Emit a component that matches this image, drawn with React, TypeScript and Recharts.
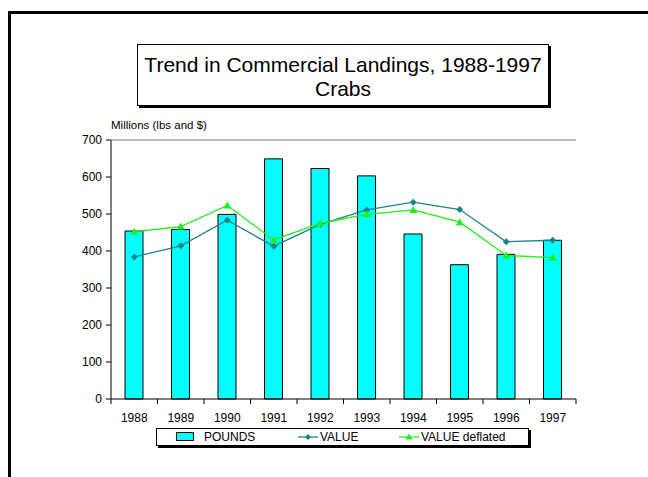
import React from "react";
import {
  ComposedChart,
  Bar,
  Line,
  XAxis,
  YAxis,
  ReferenceLine,
} from "recharts";

const years = ["1988", "1989", "1990", "1991", "1992", "1993", "1994", "1995", "1996", "1997"];
const pounds = [454, 458, 499, 649, 623, 603, 446, 363, 391, 429];
const value = [384, 414, 483, 413, 472, 511, 532, 512, 425, 429];
const valueDeflated = [452, 466, 523, 430, 475, 499, 511, 478, 388, 382];
const yTicks = [0, 100, 200, 300, 400, 500, 600, 700];

const data = years.map((year, i) => ({
  year,
  pounds: pounds[i],
  value: value[i],
  deflated: valueDeflated[i],
}));

const FONT = '"Liberation Sans", Arial, sans-serif';
const TEAL = "#1a8488";
const GREEN = "#22ee22";

const Diamond = (props: any) => {
  const { cx, cy, index } = props;
  if (cx == null || cy == null) return null;
  return (
    <polygon
      key={`d-${index}`}
      points={`${cx},${cy - 3.5} ${cx + 3.5},${cy} ${cx},${cy + 3.5} ${cx - 3.5},${cy}`}
      fill={TEAL}
    />
  );
};

const Triangle = (props: any) => {
  const { cx, cy, index } = props;
  if (cx == null || cy == null) return null;
  return (
    <polygon
      key={`t-${index}`}
      points={`${cx},${cy - 4} ${cx + 4},${cy + 3} ${cx - 4},${cy + 3}`}
      fill={GREEN}
    />
  );
};

// year label in the middle, tick marks on the category boundaries (Excel style)
const YearTick = (props: any) => {
  const { x, y, payload, index } = props;
  const half = payload.offset ?? 23.2;
  const axisY = y - 14;
  return (
    <g>
      <line x1={x - half} x2={x - half} y1={axisY} y2={axisY + 5} stroke="#000" />
      {index === years.length - 1 && (
        <line x1={x + half} x2={x + half} y1={axisY} y2={axisY + 5} stroke="#000" />
      )}
      <text x={x} y={y} dy="0.71em" textAnchor="middle" fontSize={12} fill="#000" fontFamily={FONT}>
        {payload.value}
      </text>
    </g>
  );
};

export default function App() {
  return (
    <div
      style={{
        position: "fixed",
        left: 0,
        top: 0,
        width: 648,
        height: 477,
        overflow: "hidden",
        background: "#fff",
        fontFamily: FONT,
      }}
    >
      <div
        style={{
          position: "absolute",
          left: 8,
          top: 11,
          width: 700,
          height: 500,
          borderLeft: "3px solid #000",
          borderTop: "3px solid #000",
        }}
      />
      <div
        style={{
          position: "absolute",
          left: 137,
          top: 44,
          width: 412,
          height: 62,
          border: "1px solid #000",
          boxShadow: "2px 2px 0 #000",
          background: "#fff",
          textAlign: "center",
          fontSize: 21,
          lineHeight: "24px",
          paddingTop: 8,
          boxSizing: "border-box",
          color: "#000",
          whiteSpace: "nowrap",
        }}
      >
        Trend in Commercial Landings, 1988-1997
        <br />
        Crabs
      </div>
      <div style={{ position: "absolute", left: 111, top: 119, fontSize: 11.5, color: "#000" }}>
        Millions (lbs and $)
      </div>

      <div style={{ position: "absolute", left: 0, top: 0 }}>
        <ComposedChart
          width={648}
          height={477}
          data={data}
          margin={{ top: 140, right: 72, bottom: 48, left: 51 }}
          barCategoryGap={0}
        >
          <XAxis
            dataKey="year"
            height={30}
            stroke="#000"
            tickLine={false}
            tickSize={0}
            tickMargin={14}
            interval={0}
            tick={<YearTick />}
          />
          <YAxis
            width={60}
            domain={[0, 700]}
            ticks={yTicks}
            interval={0}
            stroke="#000"
            tickSize={5}
            tickMargin={4}
            tick={{ fontSize: 12, fill: "#000", fontFamily: FONT }}
          />
          <YAxis
            yAxisId="right"
            orientation="right"
            width={0}
            domain={[0, 700]}
            tick={false}
            tickLine={false}
            stroke="#808080"
          />
          <ReferenceLine y={700} stroke="#808080" />
          <Bar
            dataKey="pounds"
            name="POUNDS"
            fill="#00ffff"
            stroke="#000"
            strokeWidth={1}
            barSize={18}
            isAnimationActive={false}
          />
          <Line
            dataKey="value"
            name="VALUE"
            stroke={TEAL}
            strokeWidth={1.3}
            dot={<Diamond />}
            activeDot={false}
            isAnimationActive={false}
          />
          <Line
            dataKey="deflated"
            name="VALUE deflated"
            stroke={GREEN}
            strokeWidth={1.3}
            dot={<Triangle />}
            activeDot={false}
            isAnimationActive={false}
          />
        </ComposedChart>
      </div>

      <div
        style={{
          position: "absolute",
          left: 156,
          top: 428,
          width: 373,
          height: 18,
          border: "1px solid #000",
          boxShadow: "2px 2px 0 #000",
          background: "#fff",
          boxSizing: "border-box",
          fontSize: 12,
          color: "#000",
        }}
      >
        <div
          style={{
            position: "absolute",
            left: 19,
            top: 3,
            width: 18,
            height: 9,
            background: "#00ffff",
            border: "1px solid #000",
            boxSizing: "border-box",
          }}
        />
        <span style={{ position: "absolute", left: 47, top: 1, lineHeight: "14px" }}>POUNDS</span>
        <svg style={{ position: "absolute", left: 141, top: 3 }} width={20} height={10}>
          <line x1={0} x2={20} y1={5} y2={5} stroke={TEAL} strokeWidth={1.3} />
          <polygon points="10,2 13,5 10,8 7,5" fill={TEAL} />
        </svg>
        <span style={{ position: "absolute", left: 163, top: 1, lineHeight: "14px" }}>VALUE</span>
        <svg style={{ position: "absolute", left: 242, top: 3 }} width={20} height={10}>
          <line x1={0} x2={20} y1={5} y2={5} stroke={GREEN} strokeWidth={1.3} />
          <polygon points="10,1.5 13.5,7.5 6.5,7.5" fill={GREEN} />
        </svg>
        <span style={{ position: "absolute", left: 264, top: 1, lineHeight: "14px" }}>VALUE deflated</span>
      </div>
    </div>
  );
}
